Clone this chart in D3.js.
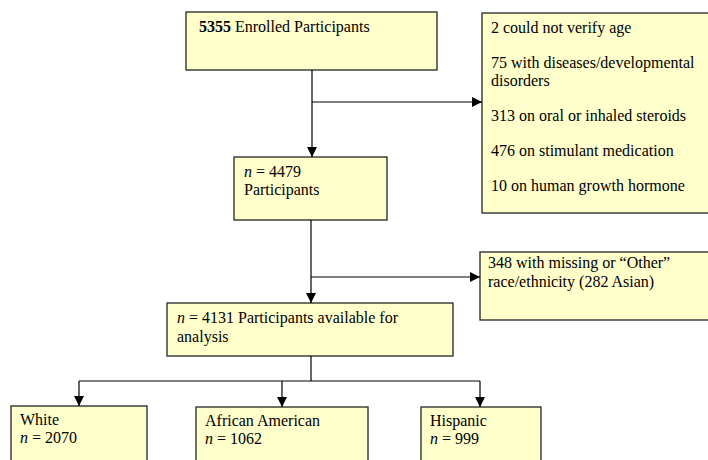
<!DOCTYPE html>
<html>
<head>
<meta charset="utf-8">
<script src="https://cdn.jsdelivr.net/npm/d3@7"></script>
<style>
  body { margin: 0; background: #fff; }
</style>
</head>
<body>
<div id="chart"></div>
<script>
// counts
var enrolled = 5355;
var eligible = 4479;
var analysed = 4131;
var exclusion_counts = [2, 75, 313, 476, 10];
var exclusion_reasons = [
  ['could not verify age'],
  ['with diseases/developmental', 'disorders'],
  ['on oral or inhaled steroids'],
  ['on stimulant medication'],
  ['on human growth hormone']
];
var missing_race = 348;
var asian = 282;
var groups = ['White', 'African American', 'Hispanic'];
var group_n = [2070, 1062, 999];

var chart_width = 708;
var chart_height = 460;
var line_height = 18;

var svg = d3.select('#chart')
  .append('svg')
  .attr('width', chart_width)
  .attr('height', chart_height)
  .style('font-family', 'Times New Roman, Liberation Serif, DejaVu Serif, serif')
  .style('font-size', '16px');

// arrow head
svg.append('defs').append('marker')
  .attr('id', 'arrow')
  .attr('viewBox', '0 0 10 10')
  .attr('refX', 10)
  .attr('refY', 5)
  .attr('markerUnits', 'userSpaceOnUse')
  .attr('markerWidth', 10)
  .attr('markerHeight', 10)
  .attr('orient', 'auto')
  .append('path')
  .attr('d', 'M0,0 L10,5 L0,10 Z')
  .attr('fill', '#000');

// layout of the boxes
var layout = {
  enrolled:  {x: 186, y: 12,  w: 251, h: 58},
  excluded:  {x: 482, y: 13,  w: 240, h: 200},
  eligible:  {x: 234, y: 157, w: 153, h: 63},
  missing:   {x: 480, y: 252, w: 240, h: 68},
  analysed:  {x: 167, y: 303, w: 286, h: 53},
  groups: [
    {x: 11,  y: 406, w: 136, h: 70},
    {x: 196, y: 407, w: 172, h: 70},
    {x: 421, y: 407, w: 120, h: 70}
  ]
};

function box(b) {
  svg.append('rect')
    .attr('x', b.x)
    .attr('y', b.y)
    .attr('width', b.w)
    .attr('height', b.h)
    .attr('fill', '#ffffcc')
    .attr('stroke', '#333')
    .attr('stroke-width', 1.4);
}

// each line is a list of [text, style] pieces
function lines(b, dx, dy, rows) {
  var t = svg.append('text').attr('fill', '#000');
  rows.forEach(function(row) {
    row.pieces.forEach(function(p, i) {
      var s = t.append('tspan').text(p[0]);
      if (i === 0) s.attr('x', b.x + dx).attr('y', b.y + dy + row.y);
      if (p[1] === 'b') s.attr('font-weight', 'bold');
      if (p[1] === 'i') s.attr('font-style', 'italic');
    });
  });
}

function arrow(points, head) {
  svg.append('path')
    .attr('d', d3.line()(points))
    .attr('fill', 'none')
    .attr('stroke', '#000')
    .attr('stroke-width', 1.2)
    .attr('marker-end', head ? 'url(#arrow)' : null);
}

// boxes and their texts
box(layout.enrolled);
lines(layout.enrolled, 13, 20, [
  {y: 0, pieces: [[enrolled, 'b'], [' Enrolled Participants']]}
]);

box(layout.excluded);
var ex_rows = [];
var yy = 0;
exclusion_counts.forEach(function(c, i) {
  exclusion_reasons[i].forEach(function(r, j) {
    ex_rows.push({y: yy, pieces: [[j === 0 ? c + ' ' + r : r]]});
    yy += line_height;
  });
  yy += 17;
});
lines(layout.excluded, 9, 20, ex_rows);

box(layout.eligible);
lines(layout.eligible, 10, 20, [
  {y: 0, pieces: [['n', 'i'], [' = ' + eligible]]},
  {y: line_height, pieces: [['Participants']]}
]);

box(layout.missing);
lines(layout.missing, 8, 16, [
  {y: 0, pieces: [[missing_race + ' with missing or \u201cOther\u201d']]},
  {y: line_height + 1, pieces: [['race/ethnicity (' + asian + ' Asian)']]}
]);

box(layout.analysed);
lines(layout.analysed, 10, 20, [
  {y: 0, pieces: [['n', 'i'], [' = ' + analysed + ' Participants available for']]},
  {y: line_height + 1, pieces: [['analysis']]}
]);

layout.groups.forEach(function(b, i) {
  box(b);
  lines(b, 9, 19, [
    {y: 0, pieces: [[groups[i]]]},
    {y: line_height, pieces: [['n', 'i'], [' = ' + group_n[i]]]}
  ]);
});

// connectors
var cx = 312;
arrow([[cx, 70], [cx, 157]], true);
arrow([[cx, 102], [482, 102]], true);
arrow([[311, 220], [311, 303]], true);
arrow([[311, 277], [480, 277]], true);
arrow([[311, 356], [311, 381]], false);
arrow([[79, 381], [480, 381]], false);
var drops = [79, 282, 480];
drops.forEach(function(x, i) {
  arrow([[x, 381], [x, layout.groups[i].y]], true);
});
</script>
</body>
</html>
